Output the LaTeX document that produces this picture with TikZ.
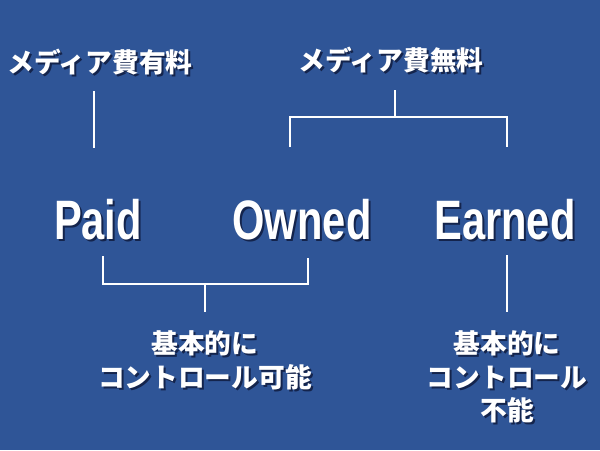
\documentclass[tikz,border=0pt]{standalone}
\usepackage{fontspec}
\setmainfont{Liberation Sans}
\newfontfamily\jpfont{Noto Sans CJK JP}
\newfontfamily\enfont{Liberation Sans}[FakeStretch=0.75]

\definecolor{bgblue}{HTML}{2F5597}
\definecolor{shade}{HTML}{14244C}

\tikzset{
  jplabel/.style={font=\jpfont\bfseries\fontsize{19}{24}\selectfont, text=white, align=center},
  mainword/.style={font=\enfont\bfseries\fontsize{39.5}{42}\selectfont, text=white, anchor=base},
  bracket/.style={draw=white, line width=1.4pt}
}

% text with a dark copy behind it
\newcommand{\shadowlabel}[4]{%
  \node[#3, text=shade] at ([shift={(2,2)}]#2) {#4};
  \node[#3] (#1) at (#2) {#4};
}

\begin{document}
\begin{tikzpicture}[x=0.025cm, y=-0.025cm]
  \fill[bgblue] (0,0) rectangle (600,450);

  \shadowlabel{yuryo}{100,62}{jplabel}{メディア費有料}
  \shadowlabel{muryo}{391,60}{jplabel}{メディア費無料}

  \shadowlabel{paid}{98,239}{mainword}{Paid}
  \shadowlabel{owned}{302,239}{mainword}{Owned}
  \shadowlabel{earned}{505,239}{mainword}{Earned}

  \shadowlabel{kano}{205,360}{jplabel}{基本的に\\コントロール可能}
  \shadowlabel{funo}{507,377}{jplabel}{基本的に\\コントロール\\不能}

  % upper brackets
  \coordinate (y1) at (94,91);
  \coordinate (y2) at (94,148);
  \draw[bracket] (y1) -- (y2);

  \coordinate (m0) at (395,90);
  \coordinate (mj) at (395,117);
  \coordinate (ml) at (290,147);
  \coordinate (mr) at (507,147);
  \draw[bracket] (m0) -- (mj);
  \draw[bracket] (ml) |- (mj) -| (mr);

  % lower brackets
  \coordinate (pl) at (103,256);
  \coordinate (pr) at (308,258);
  \coordinate (pj) at (205,284);
  \coordinate (pk) at (205,312);
  \draw[bracket] (pl) |- (pj) -| (pr);
  \draw[bracket] (pj) -- (pk);

  \coordinate (e1) at (507,255);
  \coordinate (e2) at (507,312);
  \draw[bracket] (e1) -- (e2);
\end{tikzpicture}
\end{document}
